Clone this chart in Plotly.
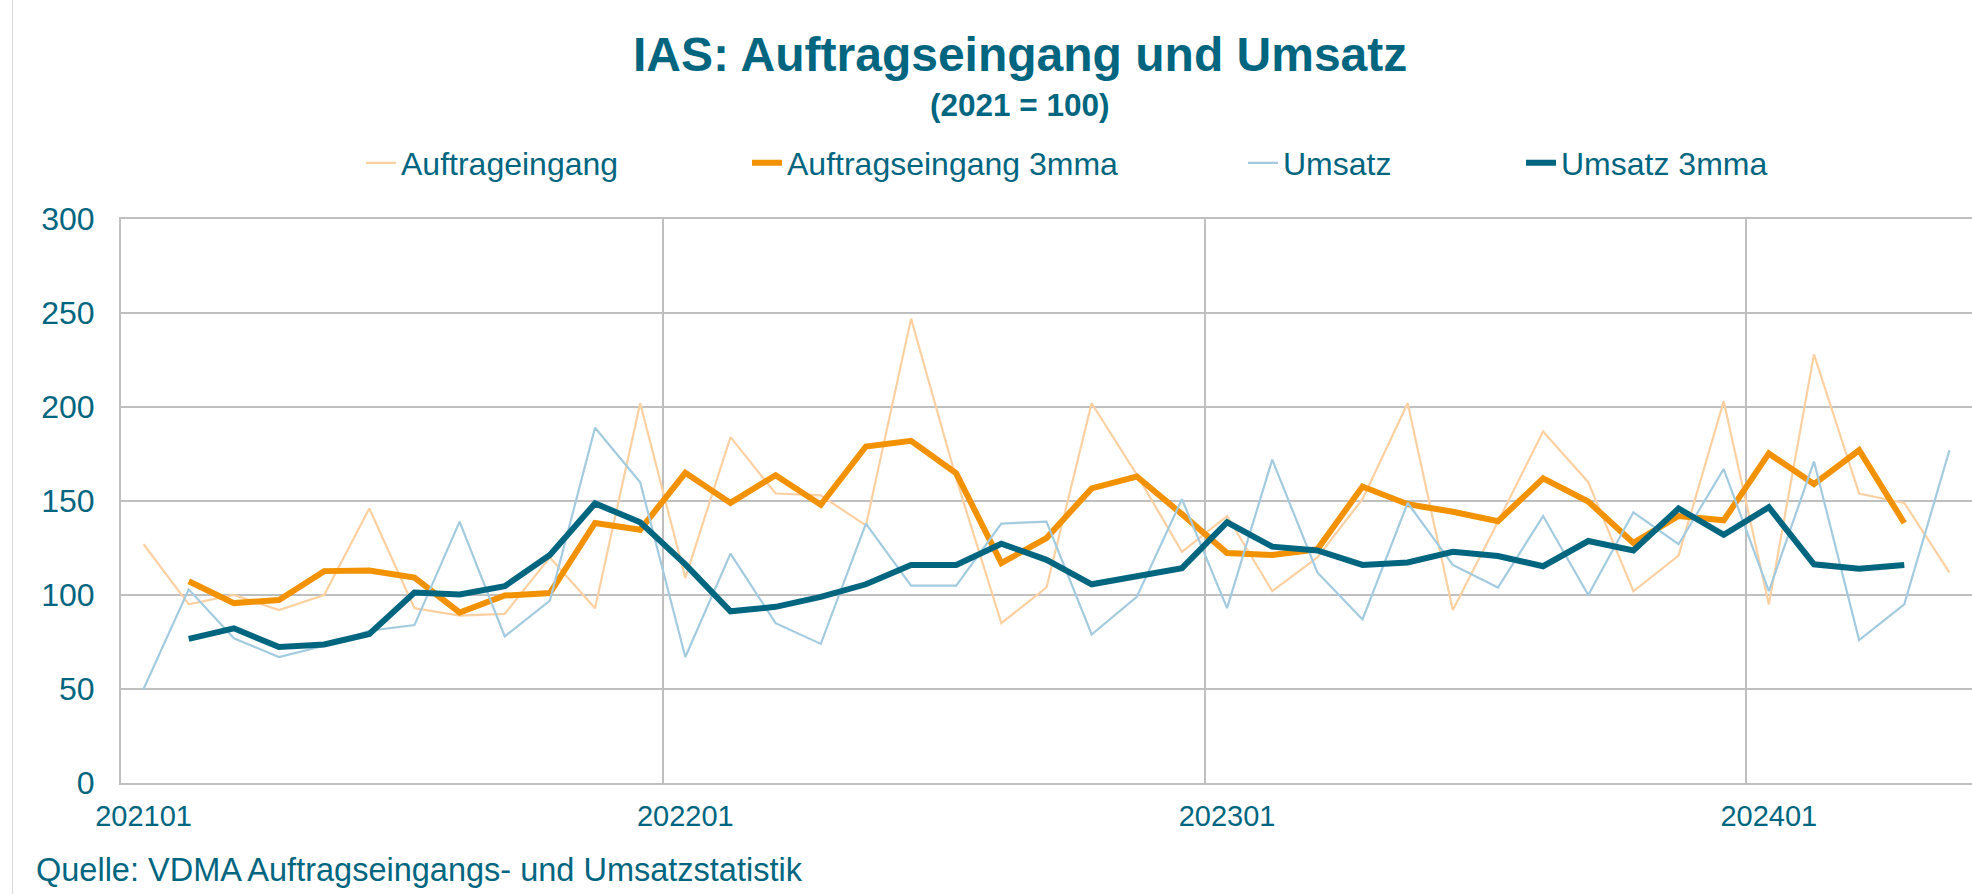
import plotly.graph_objects as go

# Monatskategorien 202101 .. 202405
monate = [
    "202101", "202102", "202103", "202104", "202105", "202106", "202107", "202108", "202109", "202110", "202111", "202112",
    "202201", "202202", "202203", "202204", "202205", "202206", "202207", "202208", "202209", "202210", "202211", "202212",
    "202301", "202302", "202303", "202304", "202305", "202306", "202307", "202308", "202309", "202310", "202311", "202312",
    "202401", "202402", "202403", "202404", "202405",
]

auftragseingang = [
    127, 95, 100, 92, 100, 146, 93, 89, 90, 120, 93, 202,
    109, 184, 154, 153, 137, 247, 162, 85, 104, 202, 164, 123,
    142, 102, 120, 151, 202, 92, 139, 187, 160, 102, 121, 203,
    95, 228, 154, 149, 112,
]

auftragseingang_3mma = [
    None, 107.3, 95.7, 97.3, 112.7, 113.0, 109.3, 90.7, 99.7, 101.0, 138.3, 134.7,
    165.0, 149.0, 163.7, 148.0, 179.0, 182.0, 164.7, 117.0, 130.3, 156.7, 163.0, 143.0,
    122.3, 121.3, 124.3, 157.7, 148.3, 144.3, 139.3, 162.0, 149.7, 127.7, 142.0, 139.7,
    175.3, 159.0, 177.0, 138.3, None,
]

umsatz = [
    50, 103, 77, 67, 73, 81, 84, 139, 78, 97, 189, 160,
    67, 122, 85, 74, 138, 105, 105, 138, 139, 79, 99, 151,
    93, 172, 112, 87, 149, 116, 104, 142, 100, 144, 127, 167,
    102, 171, 76, 95, 177,
]

umsatz_3mma = [
    None, 76.7, 82.3, 72.3, 73.7, 79.3, 101.3, 100.3, 104.7, 121.3, 148.7, 138.7,
    116.3, 91.3, 93.7, 99.0, 105.7, 116.0, 116.0, 127.3, 118.7, 105.7, 109.7, 114.3,
    138.7, 125.7, 123.7, 116.0, 117.3, 123.0, 120.7, 115.3, 128.7, 123.7, 146.0, 132.0,
    146.7, 116.3, 114.0, 116.0, None,
]

TEAL = "#00667F"
GRID = "#BFBFBF"
FONT = "Liberation Sans, Arial, sans-serif"
W, H = 1972, 894
L, R, T, B = 121, 0, 219, 111

fig = go.Figure()
fig.add_trace(go.Scatter(x=monate, y=auftragseingang, mode="lines", name="Auftrageingang",
                         line=dict(color="#FDD0A2", width=2.2), legend="legend"))
fig.add_trace(go.Scatter(x=monate, y=auftragseingang_3mma, mode="lines", name="Auftragseingang 3mma",
                         line=dict(color="#F39200", width=6), legend="legend2"))
fig.add_trace(go.Scatter(x=monate, y=umsatz, mode="lines", name="Umsatz",
                         line=dict(color="#A3CBE0", width=2.2), legend="legend3"))
fig.add_trace(go.Scatter(x=monate, y=umsatz_3mma, mode="lines", name="Umsatz 3mma",
                         line=dict(color="#006680", width=6), legend="legend4"))


def leg(px):
    return dict(x=px / W, xref="container", xanchor="left", y=1 - 163 / H, yref="container",
                yanchor="middle", orientation="h", bgcolor="rgba(0,0,0,0)", borderwidth=0,
                font=dict(family=FONT, size=32, color=TEAL))


def py(px):
    # Pixelzeile -> paper-Koordinate
    return (H - B - px) / (H - T - B)


XMID = (1020 - L) / (W - L - R)

fig.update_layout(
    template="none",
    width=W, height=H,
    margin=dict(l=L, r=R, t=T, b=B, pad=0),
    paper_bgcolor="white", plot_bgcolor="white",
    showlegend=True,
    legend=leg(361), legend2=leg(747), legend3=leg(1243), legend4=leg(1521),
    xaxis=dict(
        type="category", range=[-0.5, 40.5], tickmode="linear", tick0=0, dtick=12,
        tickson="boundaries", ticks="", tickangle=0, automargin=False,
        showgrid=True, gridcolor=GRID, gridwidth=2,
        showline=True, mirror=True, linecolor=GRID, linewidth=2, zeroline=False,
        ticklabelstandoff=6,
        tickfont=dict(family=FONT, size=29, color=TEAL),
    ),
    yaxis=dict(
        range=[0, 300], dtick=50, ticks="", automargin=False,
        showgrid=True, gridcolor=GRID, gridwidth=2,
        showline=True, linecolor=GRID, linewidth=2, zeroline=False,
        ticklabelstandoff=18,
        tickfont=dict(family=FONT, size=32, color=TEAL),
    ),
    annotations=[
        dict(text="<b>IAS: Auftragseingang und Umsatz</b>", xref="paper", yref="paper",
             x=XMID, y=py(55), xanchor="center", yanchor="middle",
             showarrow=False, font=dict(family=FONT, size=48, color=TEAL)),
        dict(text="<b>(2021 = 100)</b>", xref="paper", yref="paper",
             x=XMID, y=py(105), xanchor="center", yanchor="middle",
             showarrow=False, font=dict(family=FONT, size=31.5, color=TEAL)),
        dict(text="Quelle: VDMA Auftragseingangs- und Umsatzstatistik", xref="paper", yref="paper",
             x=(34 - L) / (W - L - R), y=py(870), xanchor="left", yanchor="middle",
             showarrow=False, font=dict(family=FONT, size=32.5, color=TEAL)),
    ],
    shapes=[
        dict(type="line", xref="paper", yref="paper", x0=(12.5 - L) / (W - L - R), x1=(12.5 - L) / (W - L - R),
             y0=py(H), y1=py(0), line=dict(color="#D9D9D9", width=1)),
    ],
)

fig.write_html("out.html", config={"displayModeBar": False},
               post_script="document.body.style.margin = '0';")
